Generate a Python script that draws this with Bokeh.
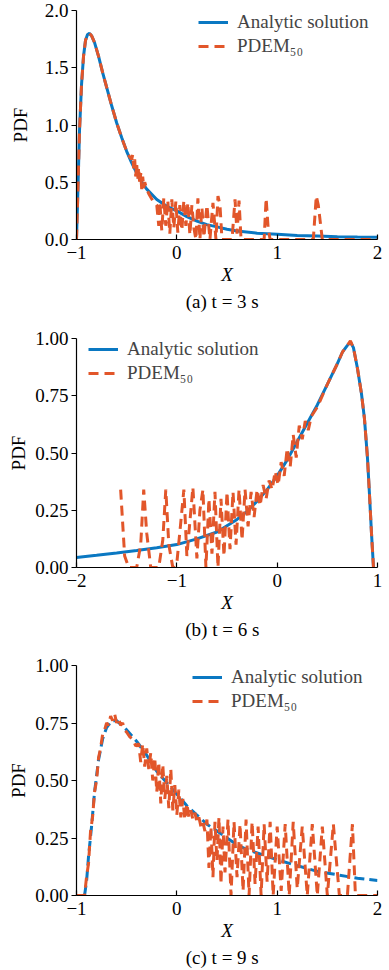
from bokeh.plotting import figure
from bokeh.models import Legend, LegendItem, Title, FixedTicker, Range1d
from bokeh.layouts import column
from bokeh.embed import file_html
from bokeh.resources import INLINE

# ---------------- data ----------------
# (a) t = 3 s
a_ana_x = [-1.0, -0.99, -0.97, -0.95, -0.93, -0.91, -0.89, -0.87, -0.85, -0.82, -0.78, -0.74, -0.70,
           -0.65, -0.60, -0.55, -0.50, -0.45, -0.40, -0.35, -0.30, -0.20, -0.10, 0.0, 0.1, 0.2, 0.3,
           0.4, 0.5, 0.6, 0.8, 1.0, 1.2, 1.4, 1.6, 1.8, 2.0]
a_ana_y = [0.0, 0.30, 0.95, 1.35, 1.60, 1.74, 1.79, 1.80, 1.78, 1.72, 1.60, 1.46, 1.33,
           1.17, 1.02, 0.89, 0.77, 0.67, 0.58, 0.50, 0.44, 0.35, 0.29, 0.25, 0.20, 0.16, 0.13,
           0.11, 0.09, 0.075, 0.055, 0.045, 0.035, 0.03, 0.025, 0.022, 0.02]
a_pdem_x = [-1.0, -0.99, -0.97, -0.95, -0.93, -0.91, -0.89, -0.87, -0.85, -0.82, -0.78, -0.74, -0.70,
            -0.65, -0.60, -0.55, -0.50, -0.47, -0.45, -0.44, -0.43, -0.42, -0.41, -0.40, -0.39, -0.38,
            -0.37, -0.36, -0.35, -0.34, -0.33, -0.32, -0.30, -0.28, -0.26, -0.24, -0.22, -0.20, -0.18,
            -0.17, -0.15, -0.13, -0.11, -0.09, -0.07, -0.05, -0.03, -0.01, 0.01, 0.03, 0.05, 0.07,
            0.09, 0.11, 0.13, 0.15, 0.17, 0.19, 0.21, 0.23, 0.25, 0.27, 0.30, 0.33, 0.36, 0.39, 0.41,
            0.43, 0.45, 0.50, 0.55, 0.58, 0.60, 0.62, 0.64, 0.70, 0.80, 0.87, 0.89, 0.91, 0.93, 1.0,
            1.2, 1.36, 1.39, 1.41, 1.43, 1.45, 1.6, 1.8, 2.0]
a_pdem_y = [0.0, 0.30, 0.95, 1.35, 1.60, 1.74, 1.79, 1.80, 1.78, 1.72, 1.60, 1.46, 1.33,
            1.17, 1.02, 0.89, 0.77, 0.72, 0.70, 0.74, 0.62, 0.70, 0.55, 0.66, 0.52, 0.63,
            0.48, 0.58, 0.44, 0.55, 0.45, 0.50, 0.44, 0.40, 0.37, 0.34, 0.32, 0.30, 0.12,
            0.33, 0.08, 0.36, 0.12, 0.34, 0.05, 0.35, 0.10, 0.33, 0.06, 0.30, 0.08, 0.34,
            0.12, 0.32, 0.04, 0.30, 0.10, 0.00, 0.36, 0.00, 0.28, 0.02, 0.30, 0.00, 0.32, 0.00, 0.38,
            0.30, 0.00, 0.00, 0.00, 0.35, 0.05, 0.34, 0.00, 0.00, 0.00, 0.00, 0.36, 0.10, 0.00, 0.0,
            0.0, 0.0, 0.38, 0.30, 0.15, 0.00, 0.0, 0.0, 0.0]

# (b) t = 6 s
b_ana_x = [-2.0, -1.8, -1.6, -1.4, -1.2, -1.0, -0.8, -0.6, -0.4, -0.3, -0.2, -0.1, 0.0, 0.1, 0.2,
           0.3, 0.4, 0.5, 0.6, 0.65, 0.7, 0.73, 0.76, 0.8, 0.84, 0.87, 0.9, 0.92, 0.94, 0.96]
b_ana_y = [0.044, 0.053, 0.063, 0.074, 0.086, 0.10, 0.125, 0.155, 0.21, 0.245, 0.29, 0.34, 0.40,
           0.47, 0.55, 0.63, 0.71, 0.80, 0.89, 0.94, 0.97, 0.985, 0.96, 0.87, 0.76, 0.65, 0.48,
           0.32, 0.15, 0.0]
b_pdem_x = [-1.56, -1.52, -1.48, -1.44, -1.40, -1.36, -1.33, -1.30, -1.26, -1.22, -1.18, -1.14,
            -1.11, -1.08, -1.04, -1.00, -0.96, -0.93, -0.90, -0.87, -0.84, -0.80, -0.77, -0.74,
            -0.71, -0.68, -0.65, -0.62, -0.59, -0.56, -0.53, -0.50, -0.47, -0.44, -0.41, -0.38,
            -0.35, -0.32, -0.29, -0.26, -0.23, -0.20, -0.17, -0.14, -0.11, -0.08, -0.05, -0.02,
            0.01, 0.04, 0.07, 0.10, 0.13, 0.16, 0.19, 0.22, 0.25, 0.28, 0.31, 0.34, 0.37, 0.40,
            0.5, 0.6, 0.65, 0.7, 0.73, 0.76, 0.8, 0.84, 0.87, 0.9, 0.92, 0.94, 0.96]
b_pdem_y = [0.34, 0.05, 0.0, 0.0, 0.0, 0.10, 0.34, 0.15, 0.0, 0.0, 0.0, 0.12,
            0.34, 0.10, 0.0, 0.02, 0.20, 0.34, 0.05, 0.20, 0.35, 0.04, 0.25, 0.34,
            0.0, 0.30, 0.06, 0.33, 0.0, 0.30, 0.05, 0.33, 0.08, 0.33, 0.10, 0.34,
            0.12, 0.34, 0.18, 0.33, 0.22, 0.34, 0.27, 0.36, 0.30, 0.38, 0.34, 0.42,
            0.36, 0.46, 0.40, 0.52, 0.44, 0.58, 0.48, 0.62, 0.56, 0.64, 0.60, 0.66, 0.68, 0.70,
            0.80, 0.89, 0.94, 0.97, 0.99, 0.96, 0.87, 0.76, 0.65, 0.48, 0.32, 0.15, 0.0]

# (c) t = 9 s
c_ana_x = [-0.92, -0.9, -0.88, -0.85, -0.82, -0.78, -0.74, -0.70, -0.65, -0.60, -0.55, -0.50, -0.40,
           -0.30, -0.20, -0.10, 0.0, 0.1, 0.2, 0.3, 0.4, 0.5, 0.6, 0.7, 0.8, 0.9, 1.0, 1.2, 1.4,
           1.6, 1.8, 2.0]
c_ana_y = [0.0, 0.06, 0.17, 0.30, 0.45, 0.59, 0.68, 0.73, 0.76, 0.76, 0.74, 0.72, 0.67,
           0.61, 0.54, 0.49, 0.44, 0.39, 0.35, 0.31, 0.28, 0.25, 0.22, 0.20, 0.185, 0.17, 0.155,
           0.13, 0.105, 0.09, 0.075, 0.065]
c_pdem_x = [-1.0, -0.93, -0.92, -0.90, -0.88, -0.86, -0.84, -0.82, -0.80, -0.78, -0.76, -0.74,
            -0.72, -0.70, -0.68, -0.66, -0.64, -0.62, -0.60, -0.58, -0.56, -0.54, -0.52, -0.50,
            -0.47, -0.44, -0.41, -0.38, -0.36, -0.34, -0.32, -0.30, -0.28, -0.26, -0.24, -0.22,
            -0.20, -0.18, -0.16, -0.14, -0.12, -0.10, -0.08, -0.06, -0.04, -0.02, 0.00, 0.02,
            0.04, 0.06, 0.08, 0.10, 0.12, 0.14, 0.16, 0.18, 0.20, 0.22, 0.24, 0.26, 0.28, 0.30,
            0.32, 0.34, 0.36, 0.38, 0.40, 0.42, 0.44, 0.46, 0.48, 0.51, 0.54, 0.57, 0.60, 0.63,
            0.66, 0.69, 0.72, 0.75, 0.78, 0.81, 0.84, 0.87, 0.90, 0.93, 0.96, 1.00, 1.04, 1.08,
            1.12, 1.16, 1.20, 1.25, 1.30, 1.35, 1.40, 1.45, 1.50, 1.56, 1.62, 1.70, 1.75, 1.78,
            1.85, 2.0]
c_pdem_y = [0.0, 0.0, 0.0, 0.08, 0.14, 0.28, 0.34, 0.45, 0.50, 0.60, 0.64, 0.70,
            0.72, 0.75, 0.74, 0.78, 0.76, 0.79, 0.75, 0.77, 0.74, 0.75, 0.72, 0.71,
            0.69, 0.68, 0.65, 0.66, 0.58, 0.66, 0.56, 0.64, 0.55, 0.62, 0.50, 0.60,
            0.45, 0.58, 0.40, 0.57, 0.42, 0.52, 0.38, 0.55, 0.37, 0.48, 0.35, 0.46,
            0.34, 0.42, 0.33, 0.40, 0.34, 0.37, 0.33, 0.36, 0.32, 0.34, 0.30, 0.32, 0.28, 0.33,
            0.12, 0.30, 0.08, 0.32, 0.15, 0.34, 0.05, 0.30, 0.10, 0.33, 0.00, 0.32, 0.08, 0.31,
            0.02, 0.33, 0.0, 0.32, 0.05, 0.30, 0.0, 0.31, 0.06, 0.32, 0.0, 0.30, 0.02, 0.31,
            0.0, 0.32, 0.03, 0.30, 0.0, 0.31, 0.0, 0.30, 0.0, 0.31, 0.0, 0.0, 0.31, 0.0,
            0.0, 0.0]

a_yticks = [0.0, 0.5, 1.0, 1.5, 2.0]
bc_yticks = [0.0, 0.25, 0.5, 0.75, 1.0]
a_xticks = [-1, 0, 1, 2]
b_xticks = [-2, -1, 0, 1]
captions = ["(a)   t = 3 s", "(b)   t = 6 s", "(c)   t = 9 s"]
labels = ["Analytic solution", "PDEM\u2085\u2080"]

BLUE = "#0A78C2"
ORANGE = "#E2562A"
FONT = "Liberation Serif"
FS = "19px"


def panel(ax, ay, px, py, xr, yr, xticks, yticks, yfmt, caption, leg_loc, top, fh, bottom,
          ylabel_standoff, blue_dash="solid"):
    p = figure(frame_width=301, frame_height=fh, x_range=Range1d(*xr), y_range=Range1d(*yr),
               output_backend="svg", toolbar_location=None,
               min_border_left=76, min_border_right=12, min_border_top=top,
               min_border_bottom=bottom)
    p.outline_line_color = None
    p.xgrid.visible = False
    p.ygrid.visible = False
    p.background_fill_color = "white"
    p.border_fill_color = "white"

    r_blue = p.line(ax, ay, line_color=BLUE, line_width=3, line_dash=blue_dash)
    r_or = p.line(px, py, line_color=ORANGE, line_width=3, line_dash="10 6")
    items_blue = [r_blue]
    if blue_dash != "solid":
        # solid sample for the legend (single point, draws nothing in the frame)
        r_leg = p.line(ax[-1:], ay[-1:], line_color=BLUE, line_width=3, line_dash="solid")
        items_blue = [r_leg]

    legend = Legend(items=[LegendItem(label=labels[0], renderers=items_blue),
                           LegendItem(label=labels[1], renderers=[r_or])],
                    location=leg_loc, label_text_font=FONT, label_text_font_size=FS,
                    glyph_width=30, glyph_height=20, label_height=20, label_standoff=9,
                    spacing=2, padding=0, margin=0, border_line_alpha=0,
                    background_fill_alpha=0)
    p.add_layout(legend)

    for axis in (p.xaxis[0], p.yaxis[0]):
        axis.axis_line_color = "black"
        axis.axis_line_width = 1.2
        axis.major_tick_line_color = "black"
        axis.major_tick_line_width = 1.2
        axis.minor_tick_line_color = None
        axis.major_label_text_font = FONT
        axis.major_label_text_font_size = FS
        axis.major_label_text_color = "black"
        axis.axis_label_text_font = FONT
        axis.axis_label_text_font_size = FS
        axis.axis_label_text_color = "black"

    p.xaxis.ticker = FixedTicker(ticks=xticks)
    p.xaxis.major_label_overrides = {t: ("\u2212" + str(abs(t)) if t < 0 else str(t)) for t in xticks}
    p.xaxis.major_tick_in = 5
    p.xaxis.major_tick_out = 0
    p.xaxis.major_label_standoff = 6
    p.xaxis.axis_label = "X"
    p.xaxis.axis_label_text_font_style = "italic"
    p.xaxis.axis_label_standoff = 2

    p.yaxis.ticker = FixedTicker(ticks=yticks)
    p.yaxis.major_label_overrides = {t: format(t, yfmt) for t in yticks}
    p.yaxis.major_tick_in = 0
    p.yaxis.major_tick_out = 5
    p.yaxis.major_label_standoff = 3
    p.yaxis.axis_label = "PDF"
    p.yaxis.axis_label_text_font_style = "normal"
    p.yaxis.axis_label_standoff = ylabel_standoff

    p.add_layout(Title(text=caption, align="center", text_font=FONT, text_font_size=FS,
                       text_font_style="normal", text_color="black", standoff=3), "below")
    return p


pa = panel(a_ana_x, a_ana_y, a_pdem_x, a_pdem_y, (-1, 2), (0, 2.0), a_xticks, a_yticks, ".1f",
           captions[0], (122, 182), 10, 229, 79, 11)
pb = panel(b_ana_x, b_ana_y, b_pdem_x, b_pdem_y, (-2, 1), (0, 1.0), b_xticks, bc_yticks, ".2f",
           captions[1], (12, 183), 20, 229, 78, 3)
pc = panel(c_ana_x, c_ana_y, c_pdem_x, c_pdem_y, (-1, 2), (0, 1.0), a_xticks, bc_yticks, ".2f",
           captions[2], (116, 183), 20, 230, 75, 3, blue_dash="10 5")

layout = column(pa, pb, pc, spacing=0)
open("out.html", "w").write(file_html(layout, INLINE))
